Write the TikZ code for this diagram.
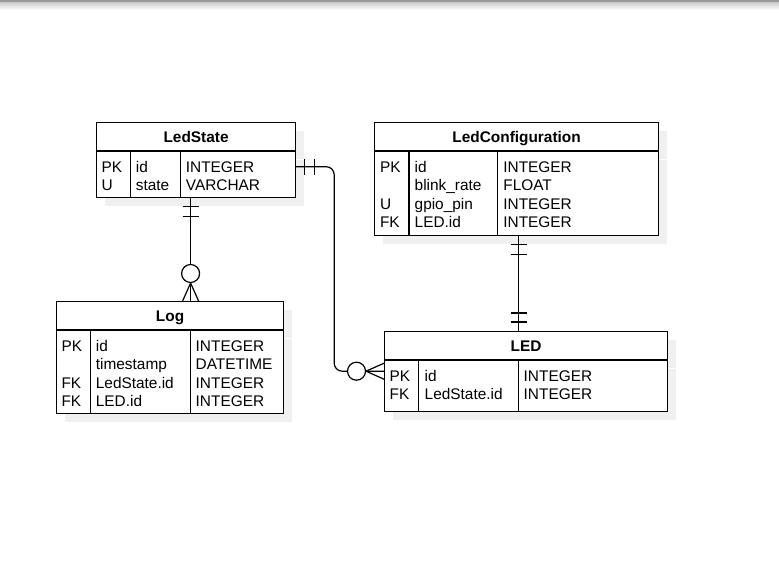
\documentclass[tikz,border=0pt]{standalone}
\usepackage{fontspec}
\setmainfont{Liberation Sans}
\usetikzlibrary{positioning, calc, shadows, decorations.markings}

\begin{document}
\begin{tikzpicture}[x=1pt, y=-1pt,
  font=\fontsize{15.4}{18}\selectfont,
  boxshadow/.style={drop shadow={shadow xshift=8pt, shadow yshift=-8pt, fill=black!6, opacity=1}},
  head/.style={draw, line width=1.2pt, fill=white, anchor=north west, inner sep=0pt,
    minimum height=28pt, text height=11pt, text depth=0pt, font=\fontsize{15.4}{18}\selectfont\bfseries, boxshadow},
  body/.style={draw, line width=1.2pt, fill=white, inner sep=0pt, boxshadow},
  cell/.style={anchor=base west, inner sep=0pt},
  rel/.style={line width=1.2pt},
  oneA/.style={postaction={decorate, decoration={markings,
    mark=at position 8pt with {\draw[line width=1.2pt] (0,-8pt) -- (0,8pt);},
    mark=at position 18pt with {\draw[line width=1.2pt] (0,-8pt) -- (0,8pt);}}}},
  oneB/.style={postaction={decorate, decoration={markings,
    mark=at position -18pt with {\draw[line width=1.2pt] (0,-8pt) -- (0,8pt);},
    mark=at position -9pt with {\draw[line width=1.2pt] (0,-8pt) -- (0,8pt);}}}},
  manyB/.style={postaction={decorate, decoration={markings,
    mark=at position -18pt with {\draw[line width=1.2pt] (0,0) -- (18pt,8pt) (0,0) -- (18pt,-8pt);},
    mark=at position -27.5pt with {\draw[line width=1.2pt, fill=white] (0,0) circle (9pt);}}}}]

\useasboundingbox (0,0) rectangle (779,562);
% window edge at the top
\shade[top color=black!22, bottom color=white] (0,1.5) rectangle (779,10);
\fill[black!40] (0,0) rectangle (779,1.5);

% LedState table
\node[head, minimum width=199pt] (state) at (96,122) {LedState};
\node[body, minimum width=199pt, minimum height=46pt, below=0pt of state.south west, anchor=north west] (stateBody) {};
\draw[line width=1.2pt] ([xshift=34.7pt]stateBody.north west) -- ([xshift=34.7pt]stateBody.south west);
\draw[line width=1.2pt] ([xshift=84.7pt]stateBody.north west) -- ([xshift=84.7pt]stateBody.south west);
\foreach \k/\n/\t [count=\i, evaluate=\i as \dy using 21.2+18.5*(\i-1)] in {PK/id/INTEGER, U/state/VARCHAR}{
  \node[cell] (state-k\i) at ([xshift=5.3pt, yshift=-\dy pt]stateBody.north west) {\k};
  \node[cell] (state-n\i) at ([xshift=39.7pt, yshift=-\dy pt]stateBody.north west) {\n};
  \node[cell] (state-t\i) at ([xshift=89.7pt, yshift=-\dy pt]stateBody.north west) {\t};
}

% LedConfiguration table
\node[head, minimum width=284pt] (conf) at (374,122) {LedConfiguration};
\node[body, minimum width=284pt, minimum height=84pt, below=0pt of conf.south west, anchor=north west] (confBody) {};
\draw[line width=1.2pt] ([xshift=35pt]confBody.north west) -- ([xshift=35pt]confBody.south west);
\draw[line width=1.2pt] ([xshift=123.7pt]confBody.north west) -- ([xshift=123.7pt]confBody.south west);
\foreach \k/\n/\t [count=\i, evaluate=\i as \dy using 21.2+18.5*(\i-1)] in {PK/id/INTEGER, /blink\_rate/FLOAT, U/gpio\_pin/INTEGER, FK/LED.id/INTEGER}{
  \node[cell] (conf-k\i) at ([xshift=5.8pt, yshift=-\dy pt]confBody.north west) {\k};
  \node[cell] (conf-n\i) at ([xshift=40.5pt, yshift=-\dy pt]confBody.north west) {\n};
  \node[cell] (conf-t\i) at ([xshift=129.2pt, yshift=-\dy pt]confBody.north west) {\t};
}

% Log table
\node[head, minimum width=227pt] (log) at (56,301) {Log};
\node[body, minimum width=227pt, minimum height=83pt, below=0pt of log.south west, anchor=north west] (logBody) {};
\draw[line width=1.2pt] ([xshift=34.7pt]logBody.north west) -- ([xshift=34.7pt]logBody.south west);
\draw[line width=1.2pt] ([xshift=134.3pt]logBody.north west) -- ([xshift=134.3pt]logBody.south west);
\foreach \k/\n/\t [count=\i, evaluate=\i as \dy using 21.2+18.5*(\i-1)] in {PK/id/INTEGER, /timestamp/DATETIME, FK/LedState.id/INTEGER, FK/LED.id/INTEGER}{
  \node[cell] (log-k\i) at ([xshift=5.3pt, yshift=-\dy pt]logBody.north west) {\k};
  \node[cell] (log-n\i) at ([xshift=39.7pt, yshift=-\dy pt]logBody.north west) {\n};
  \node[cell] (log-t\i) at ([xshift=139.5pt, yshift=-\dy pt]logBody.north west) {\t};
}

% LED table
\node[head, minimum width=283pt] (led) at (384,331) {LED};
\node[body, minimum width=283pt, minimum height=51pt, below=0pt of led.south west, anchor=north west] (ledBody) {};
\draw[line width=1.2pt] ([xshift=34.7pt]ledBody.north west) -- ([xshift=34.7pt]ledBody.south west);
\draw[line width=1.2pt] ([xshift=134.3pt]ledBody.north west) -- ([xshift=134.3pt]ledBody.south west);
\foreach \k/\n/\t [count=\i, evaluate=\i as \dy using 21.2+18.5*(\i-1)] in {PK/id/INTEGER, FK/LedState.id/INTEGER}{
  \node[cell] (led-k\i) at ([xshift=5.5pt, yshift=-\dy pt]ledBody.north west) {\k};
  \node[cell] (led-n\i) at ([xshift=40.5pt, yshift=-\dy pt]ledBody.north west) {\n};
  \node[cell] (led-t\i) at ([xshift=139.5pt, yshift=-\dy pt]ledBody.north west) {\t};
}

% relations
\coordinate (stateDown) at ([xshift=-5.5pt]stateBody.south);
\draw[rel, oneA, manyB] (stateDown) -- (stateDown |- log.north);

\coordinate (stateRight) at ([yshift=-15.5pt]stateBody.north east);
\coordinate (ledLeft) at ([yshift=-11pt]ledBody.north west);
\coordinate (bend) at ([xshift=38pt]stateRight);
\draw[rel, rounded corners=8pt, oneA, manyB] (stateRight) -- (bend) |- (ledLeft);

\coordinate (confDown) at ([xshift=2pt]confBody.south);
\draw[rel, oneA, oneB] (confDown) -- (confDown |- led.north);
\end{tikzpicture}
\end{document}
